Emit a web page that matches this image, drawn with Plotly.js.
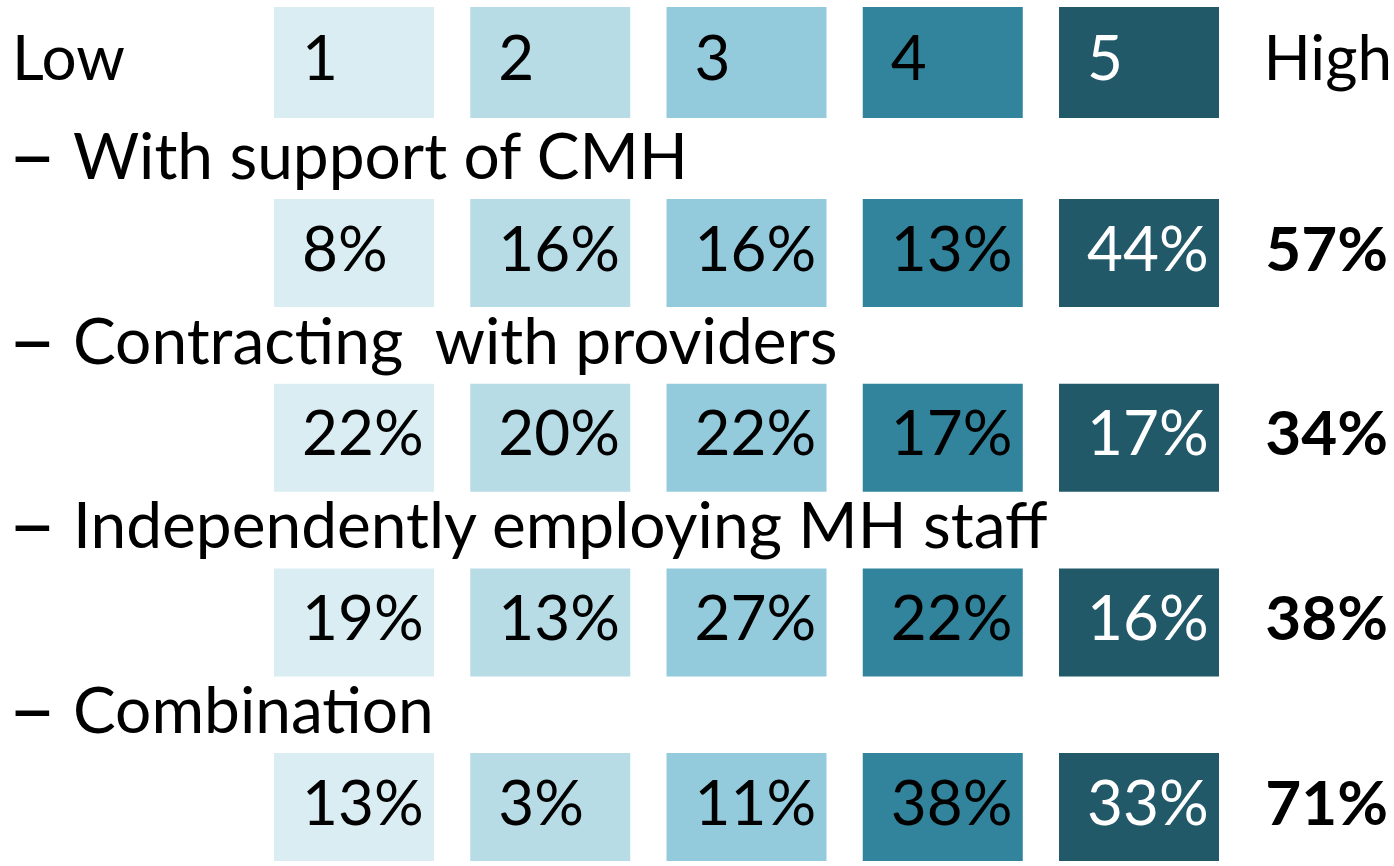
<!DOCTYPE html>
<html>
<head>
<meta charset="utf-8">
<script src="https://cdn.plot.ly/plotly-3.0.1.min.js"></script>
<style>html,body{margin:0;padding:0;background:#fff;}#chart{width:1394px;height:866px;}</style>
</head>
<body>
<div id="chart"></div>
<script>
// ---- data ----
const levels = ['1', '2', '3', '4', '5'];
const scaleEnds = ['Low', 'High'];
const categories = ['With support of CMH', 'Contracting\u00a0 with providers', 'Independently employing MH staff', 'Combination'];
const withSupportCMH = [8, 16, 16, 13, 44];
const contractingProviders = [22, 20, 22, 17, 17];
const independentlyEmploying = [19, 13, 27, 22, 16];
const combination = [13, 3, 11, 38, 33];
const highTotals = [57, 34, 38, 71];
const levelColors = ['#DAEDF3', '#B7DCE6', '#93CBDC', '#31849B', '#215968'];
const levelTextColors = ['#000000', '#000000', '#000000', '#000000', '#FFFFFF'];

const rows = [withSupportCMH, contractingProviders, independentlyEmploying, combination];

// ---- geometry (layout only) ----
const FONT = 'Lato, "Open Sans", sans-serif';
const FS = 62;
const LABEL_FS = 64;
const colStep = 196.25, colLeft0 = 274, boxW = 160;
const colLeft = j => colLeft0 + colStep * j;
const colCenter = j => colLeft(j) + boxW / 2;
const headerTop = 7, headerH = 111;
const rowTop0 = 199, rowStep = 184.7, rowH = 108;
const labelY0 = 163;

const xs = levels.map((_, j) => colCenter(j));
const xText = levels.map((_, j) => colLeft(j) + 28);

const traces = [];
const noHover = {hoverinfo: 'skip', showlegend: false};

// header boxes
traces.push(Object.assign({
  type: 'bar', x: xs, y: levels.map(() => headerH), base: headerTop,
  width: boxW, marker: {color: levelColors, line: {width: 0}}
}, noHover));
// header numbers
traces.push(Object.assign({
  type: 'scatter', mode: 'text', x: xText, y: levels.map(() => headerTop + headerH / 2 + 2),
  text: levels, textposition: 'middle right',
  textfont: {family: FONT, size: FS, color: levelTextColors}
}, noHover));
// Low / High
traces.push(Object.assign({
  type: 'scatter', mode: 'text', x: [12], y: [headerTop + headerH / 2 + 2],
  text: [scaleEnds[0]], textposition: 'middle right',
  textfont: {family: FONT, size: FS, color: '#000'}
}, noHover));
traces.push(Object.assign({
  type: 'scatter', mode: 'text', x: [1392], y: [headerTop + headerH / 2 + 2],
  text: [scaleEnds[1]], textposition: 'middle left',
  textfont: {family: FONT, size: FS, color: '#000'}
}, noHover));

rows.forEach((vals, i) => {
  const top = rowTop0 + rowStep * i;
  traces.push(Object.assign({
    type: 'bar', x: xs, y: vals.map(() => rowH), base: top,
    width: boxW, marker: {color: levelColors, line: {width: 0}}
  }, noHover));
  traces.push(Object.assign({
    type: 'scatter', mode: 'text', x: xText, y: vals.map(() => top + rowH / 2 + 2),
    text: vals.map(v => v + '%'), textposition: 'middle right',
    textfont: {family: FONT, size: FS, color: levelTextColors}
  }, noHover));
  // dash bullet
  traces.push(Object.assign({
    type: 'scatter', mode: 'text', x: [8], y: [labelY0 + rowStep * i],
    text: ['\u2013'], textposition: 'middle right',
    textfont: {family: FONT, size: 84, color: '#000'}
  }, noHover));
  // category label
  traces.push(Object.assign({
    type: 'scatter', mode: 'text', x: [73], y: [labelY0 + rowStep * i],
    text: [categories[i]], textposition: 'middle right',
    textfont: {family: FONT, size: LABEL_FS, color: '#000'}
  }, noHover));
  // total high
  traces.push(Object.assign({
    type: 'scatter', mode: 'text', x: [1388], y: [top + rowH / 2 + 2],
    text: ['<b>' + highTotals[i] + '%</b>'], textposition: 'middle left',
    textfont: {family: FONT, size: FS, color: '#000'}
  }, noHover));
});

const layout = {
  width: 1394, height: 866,
  margin: {l: 0, r: 0, t: 0, b: 0, pad: 0},
  paper_bgcolor: '#ffffff', plot_bgcolor: '#ffffff',
  barmode: 'overlay',
  showlegend: false,
  xaxis: {range: [0, 1394], visible: false, fixedrange: true},
  yaxis: {range: [866, 0], visible: false, fixedrange: true}
};

Plotly.newPlot('chart', traces, layout, {staticPlot: true, displayModeBar: false});
</script>
</body>
</html>
